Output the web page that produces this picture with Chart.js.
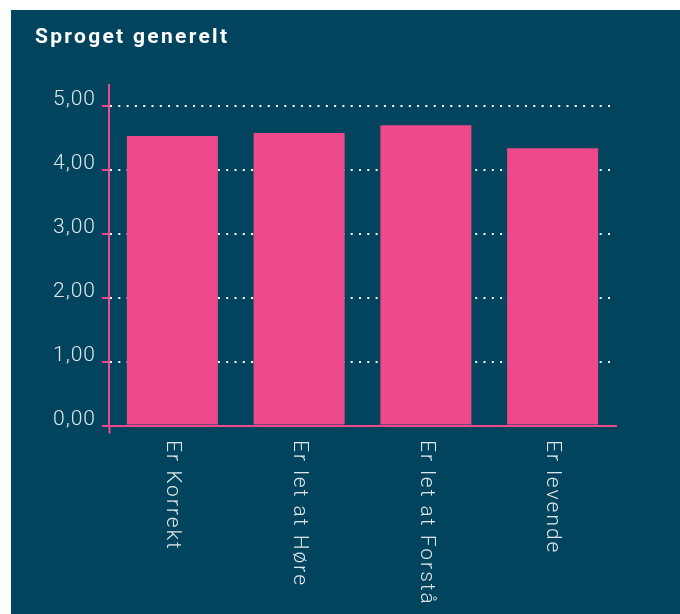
<!DOCTYPE html>
<html lang="da">
<head>
<meta charset="utf-8">
<title>Sproget generelt</title>
<script src="https://cdn.jsdelivr.net/npm/chart.js@4.4.1/dist/chart.umd.min.js"></script>
<style>
  html, body { margin: 0; padding: 0; background: #fff; }
  #panel { position: absolute; left: 11px; top: 10px; width: 669px; height: 604px; background: #02445e; }
  canvas { display: block; }
</style>
</head>
<body>
<div id="panel"><canvas id="chart" width="669" height="604"></canvas></div>
<script>
// data
const chartTitle = 'Sproget generelt';
const categories = ['Er Korrekt', 'Er let at Høre', 'Er let at Forstå', 'Er levende'];
const scores = [4.53, 4.58, 4.70, 4.34];
const yTicks = [0, 1, 2, 3, 4, 5];
const yMax = 5.33;

const pink = '#ee4a8b';
const textColor = '#dde6ea';

// titel og lodrette kategorinavne tegnes selv (Chart.js kan kun dreje mod uret)
const labelPlugin = {
  id: 'labels',
  beforeDraw(chart) {
    chart.ctx.letterSpacing = '1px';
  },
  afterDraw(chart) {
    const ctx = chart.ctx;
    const xScale = chart.scales.x;

    ctx.save();
    ctx.letterSpacing = '2.3px';
    ctx.fillStyle = '#ffffff';
    ctx.font = 'bold 21px Roboto';
    ctx.textAlign = 'left';
    ctx.textBaseline = 'alphabetic';
    ctx.fillText(chartTitle, 24, 33);
    ctx.restore();

    ctx.save();
    ctx.letterSpacing = '2px';
    ctx.fillStyle = textColor;
    ctx.font = '300 21px Roboto';
    ctx.textAlign = 'left';
    ctx.textBaseline = 'middle';
    categories.forEach((label, i) => {
      ctx.save();
      ctx.translate(xScale.getPixelForTick(i), xScale.top + 14.5);
      ctx.rotate(Math.PI / 2);
      ctx.fillText(label, 0, 0);
      ctx.restore();
    });
    ctx.restore();
  }
};

new Chart(document.getElementById('chart').getContext('2d'), {
  type: 'bar',
  data: {
    labels: categories,
    datasets: [{
      data: scores,
      backgroundColor: pink,
      borderWidth: 0,
      barPercentage: 0.718,
      categoryPercentage: 1
    }]
  },
  options: {
    responsive: false,
    animation: false,
    devicePixelRatio: 1,
    layout: { padding: { top: 75, right: 64, bottom: 0, left: 0 } },
    plugins: {
      legend: { display: false },
      title: { display: false },
      tooltip: { enabled: false }
    },
    scales: {
      x: {
        afterFit(scale) { scale.height = 188.5; },
        ticks: { display: false },
        grid: {
          display: true,
          drawOnChartArea: false,
          drawTicks: true,
          tickLength: 8,
          tickWidth: 2,
          color: 'transparent',
          tickColor: ctx => ctx.index === 0 ? pink : 'transparent'
        },
        border: { display: true, color: pink, width: 2 }
      },
      y: {
        min: 0,
        max: yMax,
        afterFit(scale) { scale.width = 98; },
        afterBuildTicks(scale) { scale.ticks = yTicks.map(v => ({ value: v })); },
        ticks: {
          color: textColor,
          font: { family: 'Roboto', size: 21, weight: '300' },
          padding: 6,
          labelOffset: -6,
          callback: v => Number(v).toFixed(2).replace('.', ',')
        },
        grid: {
          color: ctx => (ctx.tick && ctx.tick.value === 0) ? 'transparent' : '#ffffff',
          lineWidth: 2,
          drawTicks: true,
          tickLength: 7,
          tickWidth: 2,
          tickColor: pink,
          tickBorderDash: []
        },
        border: { display: true, color: pink, width: 2, dash: [2, 6.3] }
      }
    }
  },
  plugins: [labelPlugin]
});
</script>
</body>
</html>
